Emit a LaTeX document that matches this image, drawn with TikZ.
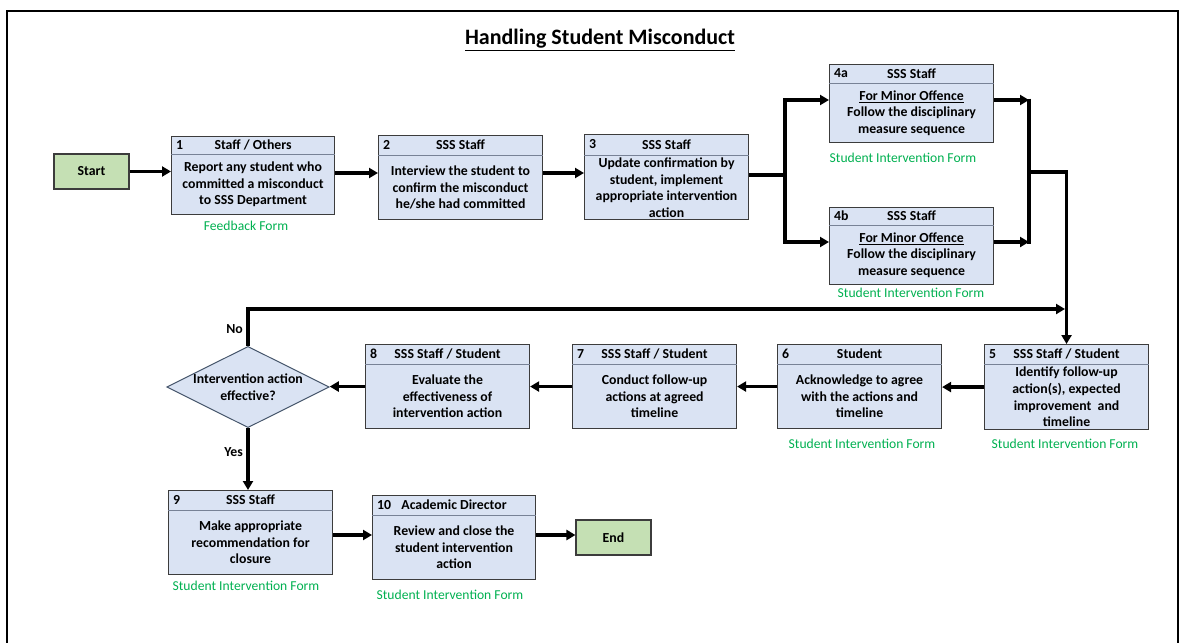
\documentclass[tikz,border=0pt]{standalone}
\usepackage{fontspec}
\setmainfont{Carlito}
\usetikzlibrary{arrows.meta,shapes.geometric,calc}
\definecolor{boxblue}{RGB}{218,227,243}
\definecolor{startgreen}{RGB}{197,224,180}
\definecolor{formgreen}{RGB}{0,176,80}
\definecolor{boxedge}{RGB}{60,60,60}
\definecolor{hdrline}{RGB}{120,130,150}
\definecolor{diaedge}{RGB}{68,84,106}
\tikzset{
 box/.style={draw=boxedge, fill=boxblue, line width=1.1pt, inner sep=0pt},
 hdr/.style={draw=hdrline, line width=1pt},
 txt/.style={font=\fontsize{13.8}{16.6}\selectfont\bfseries, align=center, inner sep=0pt},
 form/.style={font=\fontsize{13.6}{15}\selectfont, text=formgreen, inner sep=0pt},
 term/.style={draw=boxedge, fill=startgreen, line width=1.1pt, minimum width=75pt, minimum height=35pt, font=\fontsize{13.8}{16}\selectfont\bfseries, inner sep=0pt},
 flow/.style={line width=3.2pt, line join=miter, -{Triangle[length=9pt,width=10pt]}},
 plain/.style={line width=3.2pt, line join=miter},
}
\newcommand\flowbox[9]{%
 \node[box, anchor=north west, minimum width=#4pt, minimum height=#5pt] (#1) at (#2,#3) {};
 \draw[hdr] ([yshift=-#6pt]#1.north west) -- ([yshift=-#6pt]#1.north east);
 \node[txt, anchor=west] (#1n) at ([xshift=5pt,yshift=-#6pt/2]#1.north west) {#7};
 \node[txt] (#1r) at ([yshift=-#6pt/2]#1.north) {#8};
 \node[txt] (#1b) at ($([yshift=-#6pt]#1.north)!0.5!(#1.south)$) {#9};
}
\begin{document}
\begin{tikzpicture}[x=1pt,y=-1pt]
\useasboundingbox (0,0) rectangle (1179,643);
\draw[line width=1.6pt] (7,660) -- (7,11) -- (1178,11) -- (1178,660);
\node[font=\fontsize{22}{26}\selectfont\bfseries] (title) at (600,40) {\underline{Handling Student Misconduct}};

\node[term] (start) at (91.5,171.5) {Start};
\node[term] (end) at (613.5,537.5) {End};

\flowbox{b1}{171}{136}{163}{78}{18}{1}{Staff / Others}{Report any student who\\committed a misconduct\\to SSS Department}
\flowbox{b2}{378}{135}{164}{84}{20}{2}{SSS Staff}{Interview the student to\\confirm the misconduct\\he/she had committed}
\flowbox{b3}{584}{134}{164}{85}{21}{3}{SSS Staff}{Update confirmation by\\student, implement\\appropriate intervention\\action}
\flowbox{b4a}{829}{64}{164}{78}{19}{4a}{SSS Staff}{\underline{For Minor Offence}\\Follow the disciplinary\\measure sequence}
\flowbox{b4b}{829}{207}{164}{77}{18}{4b}{SSS Staff}{\underline{For Minor Offence}\\Follow the disciplinary\\measure sequence}
\flowbox{b5}{984}{344}{164}{85}{20}{5}{SSS Staff / Student}{Identify follow-up\\action(s), expected\\improvement~ and\\timeline}
\flowbox{b6}{777}{344}{164}{84}{20}{6}{Student}{Acknowledge to agree\\with the actions and\\timeline}
\flowbox{b7}{572}{344}{164}{84}{20}{7}{SSS Staff / Student}{Conduct follow-up\\actions at agreed\\timeline}
\flowbox{b8}{365}{344}{164}{84}{20}{8}{SSS Staff / Student}{Evaluate the\\effectiveness of\\intervention action}
\flowbox{b9}{168}{490}{164}{84}{20}{9}{SSS Staff}{Make appropriate\\recommendation for\\closure}
\flowbox{b10}{372}{495}{163}{84}{20}{10}{Academic Director}{Review and close the\\student intervention\\action}

\node[diamond, draw=diaedge, fill=boxblue, line width=1pt, aspect=2, minimum width=155pt, minimum height=78pt, inner sep=0pt, txt] (dia) at (248,387) {Intervention action\\effective?};

\node[form] (f1) at (246,226) {Feedback Form};
\node[form] (f4a) at (903,158) {Student Intervention Form};
\node[form] (f4b) at (911,293) {Student Intervention Form};
\node[form] (f5) at (1065,444) {Student Intervention Form};
\node[form] (f6) at (862,444) {Student Intervention Form};
\node[form] (f9) at (246,586) {Student Intervention Form};
\node[form] (f10) at (450,595) {Student Intervention Form};

\node[txt, anchor=east] (no) at (243,329) {No};
\node[txt, anchor=east] (yes) at (243,452) {Yes};

\coordinate (j1) at (785,175);
\coordinate (j2) at (1029,172);
\coordinate (j3) at (248,309);
\coordinate (j4) at (1065,309);

\draw[flow] (start.east) -- (start.east -| b1.west);
\draw[flow] (b1.east |- 0,173) -- (b2.west |- 0,173);
\draw[flow] (b2.east |- 0,173) -- (b3.west |- 0,173);
\draw[plain] (b3.east |- j1) -- (j1);
\draw[flow] (j1) |- (b4a.west |- 0,100);
\draw[flow] (j1) |- (b4b.west |- 0,242);
\draw[flow] (b4a.east |- 0,100) -- (j2 |- 0,100);
\draw[flow] (b4b.east |- 0,242) -- (j2 |- 0,242);
\draw[plain] (j2 |- 0,98.5) -- (j2 |- 0,243.5);
\draw[flow] (j2) -| (b5.north);
\draw[flow] (dia.north) |- (j4);
\draw[flow] (b5.west) -- (b5.west -| b6.east);
\draw[flow] (b6.west) -- (b6.west -| b7.east);
\draw[flow] (b7.west) -- (b7.west -| b8.east);
\draw[flow] (b8.west) -- (b8.west -| dia.east);
\draw[flow] (dia.south) -- (dia.south |- b9.north);
\draw[flow] (b9.east |- 0,535) -- (b10.west |- 0,535);
\draw[flow] (b10.east |- 0,535) -- (end.west |- 0,535);
\end{tikzpicture}
\end{document}
